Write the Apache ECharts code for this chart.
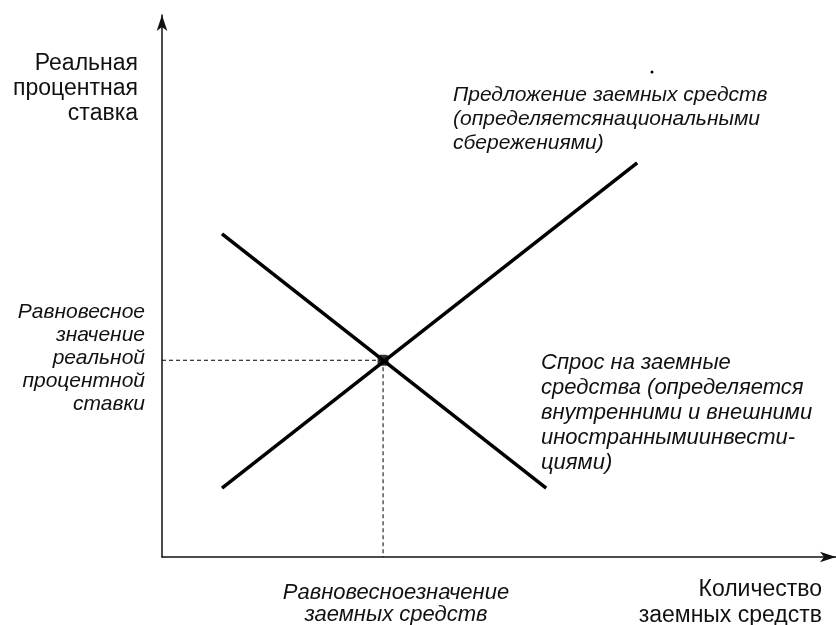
<!DOCTYPE html>
<html><head><meta charset="utf-8">
<script src="https://cdn.jsdelivr.net/npm/echarts@6/dist/echarts.min.js"></script>
<style>html,body{margin:0;padding:0;background:#fff}#c{width:836px;height:625px}</style>
</head><body><div id="c"></div>
<script>
// Data (abstract units: x 0..100, y 0..100)
const supplyX = [8.9, 70.5];
const supplyY = [12.7, 72.7];
const demandX = [8.9, 57.0];
const demandY = [59.6, 12.7];
const equilibrium = [32.8, 36.3];
const yAxisTitle = 'Реальная\nпроцентная\nставка';
const xAxisTitle = 'Количество\nзаемных средств';
const eqRateLabel = 'Равновесное\nзначение\nреальной\nпроцентной\nставки';
const eqQtyLabel = 'Равновесноезначение\nзаемных средств';
const supplyLabel = 'Предложение заемных средств\n(определяетсянациональными\nсбережениями)';
const demandLabel = 'Спрос на заемные\nсредства (определяется\nвнутренними и внешними\nиностраннымиинвести-\nциями)';

const chart = echarts.init(document.getElementById('c'));
const F = 'Liberation Sans, Arial, sans-serif';
const axisCommon = {
  type: 'value', min: 0, max: 100,
  axisLine: {show: true, symbol: ['none', 'arrow'], symbolSize: [8, 16], lineStyle: {color: '#111', width: 1.5}},
  axisTick: {show: false}, axisLabel: {show: false}, splitLine: {show: false}
};
function txt(x, y, text, font, align, lh) {
  return {type: 'text', x: x, y: y,
    style: {x: 0, y: 0, text: text, font: font, fill: '#111', align: align, verticalAlign: 'top', lineHeight: lh}};
}
chart.setOption({
  animation: false,
  backgroundColor: '#fff',
  grid: {left: 162, top: 15, right: 0, bottom: 68},
  xAxis: Object.assign({}, axisCommon),
  yAxis: Object.assign({}, axisCommon),
  series: [
    {type: 'line', data: supplyX.map((x, i) => [x, supplyY[i]]), symbol: 'none',
     lineStyle: {color: '#000', width: 3.5}},
    {type: 'line', data: demandX.map((x, i) => [x, demandY[i]]), symbol: 'none',
     lineStyle: {color: '#000', width: 3.5}},
    {type: 'line', data: [[0, equilibrium[1]], equilibrium], symbol: 'none',
     lineStyle: {color: '#000', width: 1, type: [4, 3]}},
    {type: 'line', data: [equilibrium, [equilibrium[0], 0]], symbol: 'none',
     lineStyle: {color: '#000', width: 1, type: [4, 3]}},
    {type: 'scatter', data: [equilibrium], symbol: 'roundRect', symbolSize: 11,
     itemStyle: {color: '#000'}, z: 5}
  ],
  graphic: [
    txt(138, 51, yAxisTitle, '23px ' + F, 'right', 25),
    txt(145, 301, eqRateLabel, 'italic 21px ' + F, 'right', 23),
    txt(453, 83, supplyLabel, 'italic 21px ' + F, 'left', 24),
    txt(541, 350, demandLabel, 'italic 22px ' + F, 'left', 25),
    txt(396, 582, eqQtyLabel, 'italic 22px ' + F, 'center', 22),
    txt(822, 577, xAxisTitle, '23px ' + F, 'right', 26),
    {type: 'circle', shape: {cx: 652, cy: 72, r: 1.5}, style: {fill: '#000'}}
  ]
});
</script></body></html>
